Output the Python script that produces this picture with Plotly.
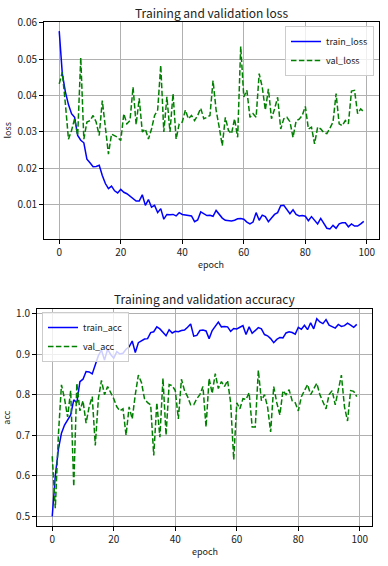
import plotly.graph_objects as go

epochs = list(range(100))

train_loss = [0.0577, 0.046, 0.041, 0.0375, 0.035, 0.034, 0.029, 0.0277, 0.027, 0.0225,
              0.0215, 0.0204, 0.0205, 0.0208, 0.018, 0.0158, 0.0144, 0.0151, 0.0138, 0.0132,
              0.0142, 0.0134, 0.013, 0.0124, 0.0118, 0.011, 0.011, 0.0127, 0.0098, 0.0114,
              0.0093, 0.0098, 0.0078, 0.0089, 0.006, 0.0073, 0.0072, 0.0073, 0.0069, 0.0078,
              0.0073, 0.0072, 0.0071, 0.0069, 0.0053, 0.0058, 0.0080, 0.0075, 0.0070, 0.0071,
              0.0068, 0.0084, 0.0072, 0.0063, 0.0057, 0.0055, 0.0055, 0.0057, 0.0061, 0.0062,
              0.0060, 0.0052, 0.0047, 0.0052, 0.0078, 0.0057, 0.0071, 0.0067, 0.0053, 0.0063,
              0.0073, 0.0078, 0.0097, 0.0098, 0.0088, 0.0075, 0.0086, 0.0073, 0.0069, 0.0070,
              0.0068, 0.0056, 0.0067, 0.0057, 0.0047, 0.0062, 0.0048, 0.0035, 0.0033, 0.0043,
              0.0035, 0.0047, 0.0050, 0.0050, 0.0039, 0.0047, 0.0041, 0.0041, 0.0047, 0.0054]

val_loss = [0.0432, 0.0464, 0.0377, 0.028, 0.0304, 0.0336, 0.029, 0.0504, 0.028, 0.0327,
            0.0331, 0.0345, 0.0327, 0.029, 0.0386, 0.0308, 0.0239, 0.0294, 0.029, 0.0285,
            0.0276, 0.035, 0.0322, 0.0331, 0.0423, 0.032, 0.0392, 0.030, 0.0308, 0.028,
            0.0308, 0.0345, 0.036, 0.0483, 0.030, 0.0396, 0.030, 0.0405, 0.028, 0.0322,
            0.0327, 0.036, 0.0336, 0.0345, 0.0331, 0.0345, 0.0365, 0.0336, 0.034, 0.0345,
            0.0441, 0.036, 0.0313, 0.0262, 0.034, 0.0304, 0.0295, 0.0336, 0.0285, 0.0535,
            0.0396, 0.0414, 0.034, 0.035, 0.034, 0.046, 0.0423, 0.036, 0.0418, 0.0336,
            0.0363, 0.0395, 0.0308, 0.0336, 0.034, 0.0328, 0.0285, 0.033, 0.0335, 0.0345,
            0.037, 0.0308, 0.0313, 0.0267, 0.0313, 0.0308, 0.0298, 0.0295, 0.031, 0.0327,
            0.0405, 0.0322, 0.0317, 0.0331, 0.0322, 0.0412, 0.0414, 0.035, 0.0363, 0.0355]

train_acc = [0.50, 0.60, 0.665, 0.705, 0.725, 0.738, 0.75, 0.787, 0.78, 0.832,
             0.838, 0.857, 0.856, 0.851, 0.873, 0.896, 0.91, 0.885, 0.912, 0.899,
             0.89, 0.906, 0.90, 0.902, 0.912, 0.918, 0.932, 0.904, 0.928, 0.933,
             0.937, 0.938, 0.953, 0.955, 0.967, 0.962, 0.953, 0.945, 0.960, 0.952,
             0.956, 0.955, 0.958, 0.959, 0.966, 0.974, 0.944, 0.946, 0.958, 0.959,
             0.957, 0.938, 0.958, 0.970, 0.979, 0.967, 0.968, 0.967, 0.956, 0.963,
             0.962, 0.966, 0.970, 0.948, 0.967, 0.951, 0.957, 0.965, 0.962, 0.948,
             0.945, 0.938, 0.928, 0.936, 0.941, 0.940, 0.952, 0.955, 0.953, 0.949,
             0.966, 0.961, 0.971, 0.960, 0.977, 0.962, 0.987, 0.979, 0.975, 0.985,
             0.971, 0.968, 0.964, 0.973, 0.968, 0.970, 0.976, 0.971, 0.966, 0.973]

val_acc = [0.648, 0.52, 0.70, 0.824, 0.79, 0.745, 0.81, 0.574, 0.828, 0.76,
           0.785, 0.73, 0.77, 0.795, 0.675, 0.79, 0.835, 0.80, 0.82, 0.805,
           0.79, 0.77, 0.76, 0.765, 0.70, 0.77, 0.74, 0.80, 0.848, 0.83,
           0.79, 0.78, 0.775, 0.65, 0.78, 0.695, 0.84, 0.70, 0.825, 0.822,
           0.81, 0.74, 0.838, 0.81, 0.795, 0.775, 0.775, 0.79, 0.80, 0.82,
           0.72, 0.84, 0.803, 0.852, 0.815, 0.832, 0.82, 0.835, 0.78, 0.64,
           0.78, 0.765, 0.79, 0.788, 0.805, 0.72, 0.72, 0.86, 0.785, 0.80,
           0.77, 0.708, 0.82, 0.78, 0.75, 0.81, 0.80, 0.812, 0.785, 0.78,
           0.76, 0.795, 0.81, 0.825, 0.80, 0.815, 0.828, 0.80, 0.78, 0.765,
           0.80, 0.81, 0.775, 0.81, 0.848, 0.77, 0.735, 0.81, 0.808, 0.795]

x_ticks = [0, 20, 40, 60, 80, 100]
loss_ticks = [0.01, 0.02, 0.03, 0.04, 0.05, 0.06]
acc_ticks = [0.5, 0.6, 0.7, 0.8, 0.9, 1.0]

W, H = 388, 566
FONT = "Noto Sans CJK JP"
TXT = "#222222"
BLUE = "#0000ff"
GREEN = "#008000"
DASH = "5.5px,2.4px"

fig = go.Figure()
fig.add_trace(go.Scatter(x=epochs, y=train_loss, mode="lines", name="train_loss",
                         line=dict(color=BLUE, width=1.5), xaxis="x", yaxis="y", legend="legend"))
fig.add_trace(go.Scatter(x=epochs, y=val_loss, mode="lines", name="val_loss",
                         line=dict(color=GREEN, width=1.5, dash=DASH), xaxis="x", yaxis="y", legend="legend"))
fig.add_trace(go.Scatter(x=epochs, y=train_acc, mode="lines", name="train_acc",
                         line=dict(color=BLUE, width=1.5), xaxis="x2", yaxis="y2", legend="legend2"))
fig.add_trace(go.Scatter(x=epochs, y=val_acc, mode="lines", name="val_acc",
                         line=dict(color=GREEN, width=1.5, dash=DASH), xaxis="x2", yaxis="y2", legend="legend2"))

top_px = (22, 239)
bot_px = (309, 526.3)
x1_px = (44, 379)
x2_px = (37, 372)

def dom_x(p):
    return [p[0] / W, p[1] / W]

def dom_y(p):
    return [1 - p[1] / H, 1 - p[0] / H]

axis_common = dict(showline=True, linecolor="black", linewidth=1, mirror=True,
                   showgrid=True, gridcolor="#b0b0b0", gridwidth=0.8,
                   ticks="outside", ticklen=4, tickcolor="black", tickwidth=1,
                   tickfont=dict(family=FONT, size=10, color=TXT),
                   zeroline=False, automargin=False)

legend_common = dict(bgcolor="rgba(255,255,255,0.8)", bordercolor="#cccccc", borderwidth=1,
                     font=dict(family=FONT, size=9, color=TXT), tracegroupgap=0,
                     itemwidth=30)

fig.update_layout(
    width=W, height=H,
    margin=dict(l=0, r=0, t=0, b=0),
    paper_bgcolor="white", plot_bgcolor="white",
    font=dict(family=FONT, size=10, color=TXT),
    xaxis=dict(domain=dom_x(x1_px), anchor="y", range=[-4.95, 103.95], tickvals=x_ticks, **axis_common),
    yaxis=dict(domain=dom_y(top_px), anchor="x", range=[0.00055, 0.0602], tickvals=loss_ticks,
               tickformat=".2f", **axis_common),
    xaxis2=dict(domain=dom_x(x2_px), anchor="y2", range=[-4.95, 103.95], tickvals=x_ticks, **axis_common),
    yaxis2=dict(domain=dom_y(bot_px), anchor="x2", range=[0.4756, 1.011], tickvals=acc_ticks,
                tickformat=".1f", **axis_common),
    legend=dict(x=374 / W, y=1 - 26 / H, xanchor="right", yanchor="top", **legend_common),
    legend2=dict(x=42 / W, y=1 - 312 / H, xanchor="left", yanchor="top", **legend_common),
    showlegend=True,
)

def ann(text, x, y, size=10, angle=0):
    fig.add_annotation(text=text, x=x / W, y=1 - y / H, xref="paper", yref="paper",
                       showarrow=False, textangle=angle, xanchor="center", yanchor="middle",
                       font=dict(family=FONT, size=size, color=TXT))

ann("Training and validation loss", (x1_px[0] + x1_px[1]) / 2, 12, size=12)
ann("Training and validation accuracy", (x2_px[0] + x2_px[1]) / 2, 298, size=12)
ann("epoch", (x1_px[0] + x1_px[1]) / 2, 264, size=9)
ann("epoch", (x2_px[0] + x2_px[1]) / 2, 551, size=9)
ann("loss", 7, (top_px[0] + top_px[1]) / 2, size=9, angle=-90)
ann("acc", 7, (bot_px[0] + bot_px[1]) / 2, size=9, angle=-90)

fig.write_html("out.html", config={"displayModeBar": False},
               post_script="document.body.style.margin='0px';document.body.style.overflow='hidden';")
